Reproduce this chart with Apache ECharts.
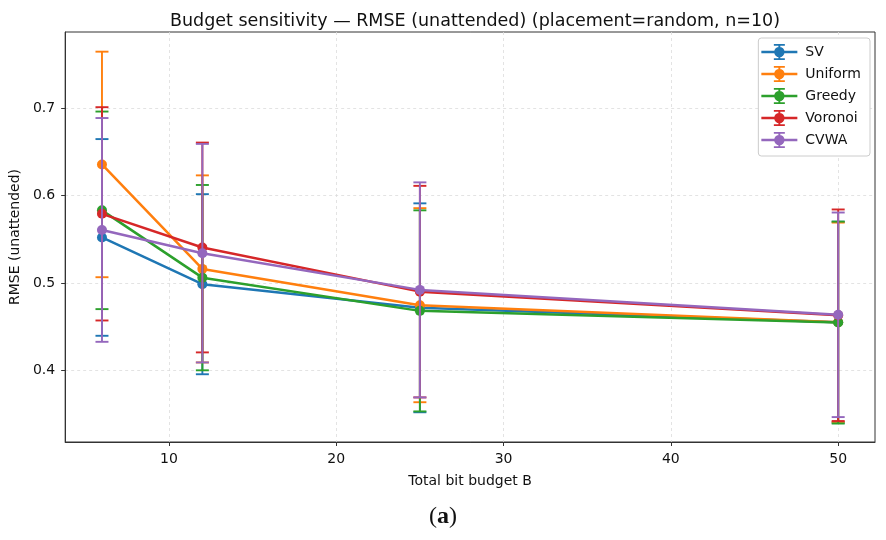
<!DOCTYPE html>
<html>
<head>
<meta charset="utf-8">
<script src="https://cdn.jsdelivr.net/npm/echarts@6/dist/echarts.min.js"></script>
<style>
  html, body { margin: 0; padding: 0; background: #fff; }
  #main { width: 886px; height: 540px; }
</style>
</head>
<body>
<div id="main"></div>
<script>
// Budgets on the x axis
const budgets = [6, 12, 25, 50];

// Mean RMSE per method
const svMean = [0.552, 0.4985, 0.4715, 0.455];
const uniformMean = [0.6355, 0.516, 0.4745, 0.455];
const greedyMean = [0.583, 0.506, 0.468, 0.4546];
const voronoiMean = [0.579, 0.5405, 0.490, 0.463];
const cvwaMean = [0.5606, 0.534, 0.492, 0.4635];

// Error half-widths per method
const svErr = [0.1125, 0.103, 0.1195, 0.115];
const uniformErr = [0.129, 0.107, 0.111, 0.114];
const greedyErr = [0.113, 0.106, 0.115, 0.1155];
const voronoiErr = [0.122, 0.12, 0.121, 0.121];
const cvwaErr = [0.128, 0.125, 0.123, 0.117];

const xTicks = [10, 20, 30, 40, 50];
const yTicks = [0.4, 0.5, 0.6, 0.7];

const methods = [
  { name: 'SV', mean: svMean, err: svErr, color: '#1f77b4' },
  { name: 'Uniform', mean: uniformMean, err: uniformErr, color: '#ff7f0e' },
  { name: 'Greedy', mean: greedyMean, err: greedyErr, color: '#2ca02c' },
  { name: 'Voronoi', mean: voronoiMean, err: voronoiErr, color: '#d62728' },
  { name: 'CVWA', mean: cvwaMean, err: cvwaErr, color: '#9467bd' }
];

// Legend icon: line + marker + capped error bar (36 x 16 box)
const legendIcon =
  'path://M0 6.8H36V9.2H0Z M17 0H19V16H17Z M12.5 0H23.5V1.8H12.5Z M12.5 14.2H23.5V16H12.5Z ' +
  'M23.2 8A5.2 5.2 0 1 1 12.8 8A5.2 5.2 0 1 1 23.2 8Z';

const gridStyle = { color: '#dcdcdc', type: [3, 3], width: 0.8 };

const errorBars = (color) => (params, api) => {
  const x = api.value(0);
  const lo = api.coord([x, api.value(1)]);
  const hi = api.coord([x, api.value(2)]);
  const w = 6.5;
  const style = { stroke: color, lineWidth: 1.9 };
  return {
    type: 'group',
    children: [
      { type: 'line', shape: { x1: lo[0], y1: lo[1], x2: hi[0], y2: hi[1] }, style },
      { type: 'line', shape: { x1: hi[0] - w, y1: hi[1], x2: hi[0] + w, y2: hi[1] }, style },
      { type: 'line', shape: { x1: lo[0] - w, y1: lo[1], x2: lo[0] + w, y2: lo[1] }, style }
    ]
  };
};

const buildSeries = () => {
  const list = [];
  methods.forEach((m, i) => {
    list.push({
      name: m.name,
      type: 'line',
      data: budgets.map((b, k) => [b, m.mean[k]]),
      symbol: 'circle',
      symbolSize: 10,
      itemStyle: { color: m.color },
      lineStyle: { color: m.color, width: 2.5 },
      z: 10 + i * 2,
      animation: false
    });
    list.push({
      name: m.name,
      type: 'custom',
      renderItem: errorBars(m.color),
      data: budgets.map((b, k) => [b, m.mean[k] - m.err[k], m.mean[k] + m.err[k]]),
      encode: { x: 0, y: [1, 2] },
      itemStyle: { color: m.color },
      z: 11 + i * 2,
      animation: false
    });
  });
  return list;
};

const option = {
  backgroundColor: '#fff',
  animation: false,
  textStyle: { fontFamily: 'DejaVu Sans' },
  title: {
    text: 'Budget sensitivity \u2014 RMSE (unattended) (placement=random, n=10)',
    left: 470,
    textAlign: 'center',
    top: 7,
    textStyle: { fontSize: 17.5, fontWeight: 'normal', color: '#111', fontFamily: 'DejaVu Sans' }
  },
  legend: {
    orient: 'vertical',
    right: 16,
    top: 38,
    data: methods.map((m) => ({ name: m.name, icon: legendIcon })),
    itemWidth: 36,
    itemHeight: 16,
    itemGap: 6,
    padding: [6, 9, 8, 3],
    borderColor: '#cccccc',
    borderWidth: 1,
    borderRadius: 3,
    backgroundColor: '#fff',
    textStyle: { fontSize: 14, color: '#111', fontFamily: 'DejaVu Sans', padding: [0, 0, 0, 3] }
  },
  grid: {
    left: 65,
    right: 11,
    top: 32,
    height: 410,
    show: true,
    borderColor: '#333',
    borderWidth: 1,
    backgroundColor: 'transparent'
  },
  xAxis: {
    type: 'value',
    min: 3.8,
    max: 52.2,
    name: 'Total bit budget B',
    nameLocation: 'middle',
    nameGap: 32,
    nameTextStyle: { fontSize: 14, color: '#111' },
    axisLine: { lineStyle: { color: '#333', width: 1 } },
    axisTick: { show: true, length: 4, customValues: xTicks, lineStyle: { color: '#333' } },
    axisLabel: { customValues: xTicks, fontSize: 14, color: '#111', margin: 10 },
    splitLine: { show: true, lineStyle: gridStyle }
  },
  yAxis: {
    type: 'value',
    min: 0.318,
    max: 0.787,
    name: 'RMSE (unattended)',
    nameLocation: 'middle',
    nameGap: 40,
    nameTextStyle: { fontSize: 14, color: '#111' },
    axisLine: { show: true, lineStyle: { color: '#333', width: 1 } },
    axisTick: { show: true, length: 4, customValues: yTicks, lineStyle: { color: '#333' } },
    axisLabel: {
      customValues: yTicks,
      fontSize: 14,
      color: '#111',
      margin: 10,
      formatter: (v) => v.toFixed(1)
    },
    splitLine: { show: true, lineStyle: gridStyle }
  },
  graphic: [
    {
      type: 'text',
      left: 'center',
      top: 505,
      style: {
        text: '({a|a})',
        font: '24px "Liberation Serif"',
        fill: '#111',
        rich: { a: { fontWeight: 'bold', fontSize: 24, fontFamily: 'Liberation Serif' } }
      }
    }
  ],
  series: buildSeries()
};

const chart = echarts.init(document.getElementById('main'));
chart.setOption(option);
</script>
</body>
</html>
